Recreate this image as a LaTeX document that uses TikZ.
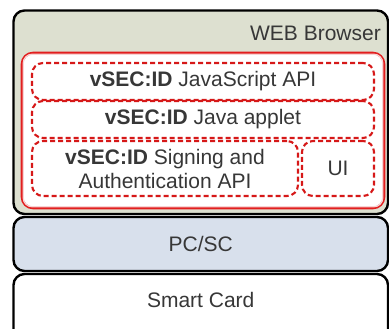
\documentclass[tikz,border=0pt]{standalone}
\usepackage{fontspec}
\setmainfont{Liberation Sans}
\definecolor{browserfill}{RGB}{221,224,208}
\definecolor{pcscfill}{RGB}{216,224,236}
\definecolor{solidred}{RGB}{226,30,30}
\definecolor{redhalo}{RGB}{248,212,212}
\definecolor{dashred}{RGB}{214,24,24}
\definecolor{txt}{RGB}{55,55,55}
\tikzset{
  layer/.style={draw=black, line width=2.4pt, rounded corners=11pt, inner sep=0pt,
                text=txt, font=\fontsize{21}{24}\selectfont},
  redbox/.style={draw=solidred, line width=2.6pt, fill=white, rounded corners=11pt, inner sep=0pt},
  halo/.style={draw=redhalo, line width=1.2pt, rounded corners=9pt},
  dashbox/.style={draw=dashred, line width=2.1pt, dash pattern=on 5pt off 3pt, rounded corners=11pt,
                  inner sep=0pt, align=center, text=txt, font=\fontsize{21}{24}\selectfont},
  lbl/.style={text=txt, font=\fontsize{21}{24}\selectfont, inner sep=0pt},
}
\begin{document}
\begin{tikzpicture}[x=1pt,y=1pt]
\useasboundingbox (0,0) rectangle (389,-329);
\clip (0,0) rectangle (389,-329);
% outer layers
\node[layer, fill=browserfill, minimum width=374.5pt, minimum height=203.5pt] (browser) at (200.75,-112.25) {};
\node[layer, fill=pcscfill, minimum width=374.5pt, minimum height=54pt] (pcsc) at (200.75,-244) {PC/SC};
\node[layer, fill=white, minimum width=374.5pt, minimum height=72pt] (card) at (200.75,-310) {};
\node[lbl, anchor=base east] (browserlbl) at (381,-41) {WEB Browser};
\node[lbl] (cardlbl) at ([yshift=10pt]card.center) {Smart Card};
% red container
\node[redbox, minimum width=362pt, minimum height=155pt] (vsec) at (203,-130.5) {};
\draw[halo] ([xshift=2.5pt,yshift=-2.5pt]vsec.north west) rectangle ([xshift=-2.5pt,yshift=2.5pt]vsec.south east);
% dashed components
\node[dashbox, minimum width=342pt, minimum height=37pt] (js) at (203,-81.5) {\textbf{vSEC:ID} JavaScript API};
\node[dashbox, minimum width=342pt, minimum height=37pt] (applet) at (203,-119.5) {\textbf{vSEC:ID} Java applet};
\node[dashbox, minimum width=266pt, minimum height=55pt] (sign) at (165,-168.5) {\textbf{vSEC:ID} Signing and\\Authentication API};
\node[dashbox, minimum width=72pt, minimum height=55pt] (ui) at (338,-168.5) {UI};
\end{tikzpicture}
\end{document}
